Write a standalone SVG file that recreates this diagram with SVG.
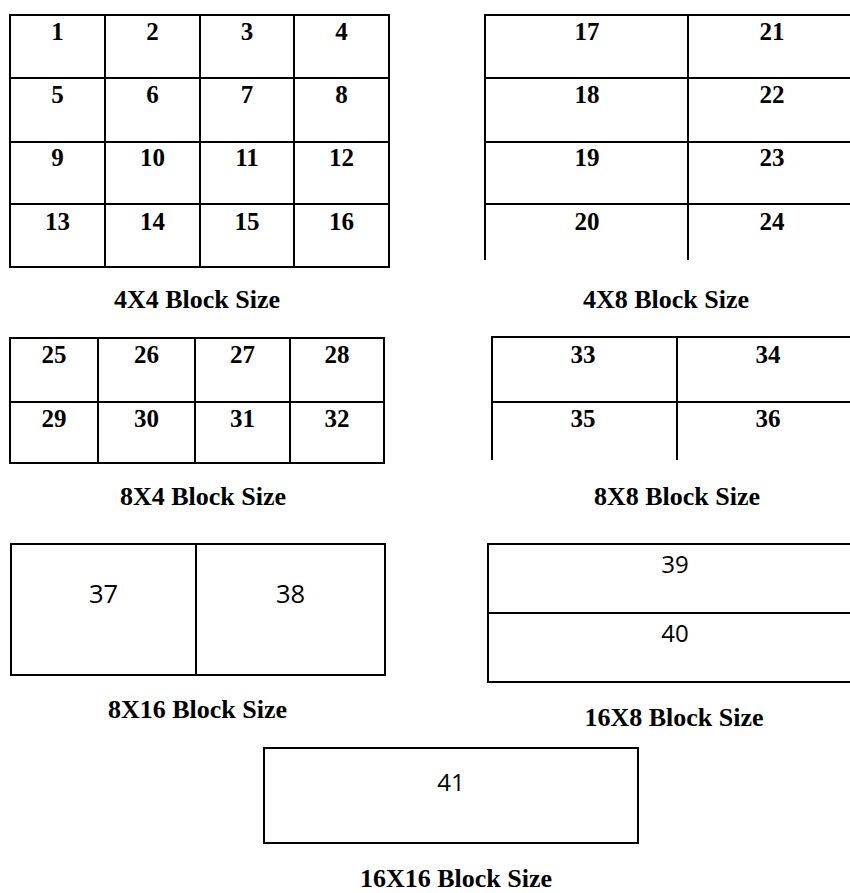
<svg xmlns="http://www.w3.org/2000/svg" width="850" height="893" viewBox="0 0 850 893">
<style>
.ln{stroke:#000;stroke-width:2;fill:none}
.n{font-family:"Liberation Serif","Times New Roman",serif;font-weight:bold;font-size:25px;text-anchor:middle;fill:#000}
.s{font-family:"Open Sans","Noto Sans",sans-serif;font-size:24px;text-anchor:middle;fill:#000}
.s2{font-size:25.5px}
.lb{font-family:"Liberation Serif","Times New Roman",serif;font-weight:bold;font-size:26px;text-anchor:middle;fill:#000}
</style>
<rect width="850" height="893" fill="#fff"/>
<g id="block4x4">
<rect class="ln" x="10" y="15" width="379" height="252"/>
<path class="ln" d="M105 15V267M200 15V267M294 15V267M10 78H389M10 142H389M10 204H389"/>
<text class="n" x="57.5" y="40">1</text><text class="n" x="152.5" y="40">2</text><text class="n" x="247" y="40">3</text><text class="n" x="341.5" y="40">4</text>
<text class="n" x="57.5" y="103">5</text><text class="n" x="152.5" y="103">6</text><text class="n" x="247" y="103">7</text><text class="n" x="341.5" y="103">8</text>
<text class="n" x="57.5" y="166">9</text><text class="n" x="152.5" y="166">10</text><text class="n" x="247" y="166">11</text><text class="n" x="341.5" y="166">12</text>
<text class="n" x="57.5" y="230">13</text><text class="n" x="152.5" y="230">14</text><text class="n" x="247" y="230">15</text><text class="n" x="341.5" y="230">16</text>
<text class="lb" x="197" y="308">4X4 Block Size</text>
</g>
<g id="block4x8">
<path class="ln" d="M484 15H851M485 78H851M485 142H851M485 204H851M485 15V260M688 15V260"/>
<text class="n" x="587" y="40">17</text><text class="n" x="772" y="40">21</text>
<text class="n" x="587" y="103">18</text><text class="n" x="772" y="103">22</text>
<text class="n" x="587" y="166">19</text><text class="n" x="772" y="166">23</text>
<text class="n" x="587" y="230">20</text><text class="n" x="772" y="230">24</text>
<text class="lb" x="666" y="308">4X8 Block Size</text>
</g>
<g id="block8x4">
<rect class="ln" x="10" y="338" width="374" height="125"/>
<path class="ln" d="M98 338V463M195 338V463M290 338V463M10 402H384"/>
<text class="n" x="54" y="363">25</text><text class="n" x="146.5" y="363">26</text><text class="n" x="242.5" y="363">27</text><text class="n" x="337" y="363">28</text>
<text class="n" x="54" y="427">29</text><text class="n" x="146.5" y="427">30</text><text class="n" x="242.5" y="427">31</text><text class="n" x="337" y="427">32</text>
<text class="lb" x="203" y="505">8X4 Block Size</text>
</g>
<g id="block8x8">
<path class="ln" d="M491 337H851M492 402H851M492 337V460M677 337V460"/>
<text class="n" x="583" y="363">33</text><text class="n" x="768" y="363">34</text>
<text class="n" x="583" y="427">35</text><text class="n" x="768" y="427">36</text>
<text class="lb" x="677" y="505">8X8 Block Size</text>
</g>
<g id="block8x16">
<rect class="ln" x="11" y="544" width="374" height="131"/>
<path class="ln" d="M196 544V675"/>
<text class="s s2" x="103.5" y="603">37</text><text class="s s2" x="290.5" y="603">38</text>
<text class="lb" x="197.5" y="718">8X16 Block Size</text>
</g>
<g id="block16x8">
<path class="ln" d="M487 544H851M488 613H851M487 682H851M488 544V682"/>
<text class="s" x="675" y="573">39</text><text class="s" x="675" y="642">40</text>
<text class="lb" x="674" y="726">16X8 Block Size</text>
</g>
<g id="block16x16">
<rect class="ln" x="264" y="748" width="374" height="95"/>
<text class="s" x="451" y="791">41</text>
<text class="lb" x="456" y="887">16X16 Block Size</text>
</g>
<g id="connectors"></g>
</svg>
